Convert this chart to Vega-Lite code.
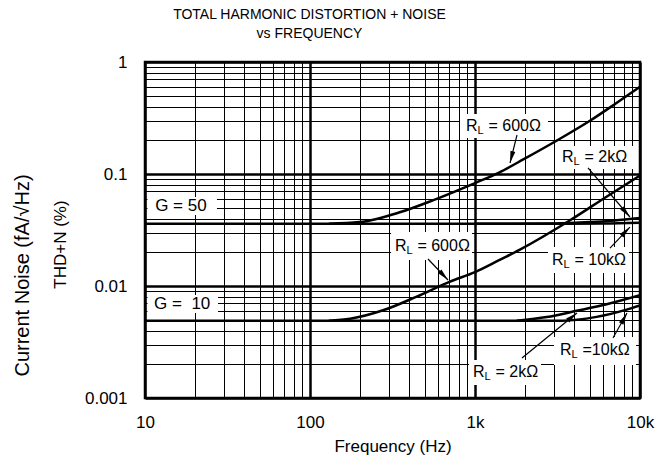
{
  "$schema": "https://vega.github.io/schema/vega-lite/v6.json",
  "width": 495,
  "height": 336,
  "autosize": {"type": "none"},
  "padding": {"left": 145, "top": 62, "right": 21, "bottom": 70},
  "config": {
    "font": "Liberation Sans",
    "view": {"stroke": "black", "strokeWidth": 2.5},
    "axis": {"labelColor": "black", "titleColor": "black", "titleFontWeight": "normal", "labelFont": "Liberation Sans", "titleFont": "Liberation Sans"}
  },
  "title": {
    "text": ["TOTAL HARMONIC DISTORTION + NOISE", "vs FREQUENCY"],
    "fontSize": 14,
    "fontWeight": "normal",
    "color": "black",
    "frame": "group",
    "anchor": "middle",
    "dx": -83,
    "offset": 12,
    "lineHeight": 19.5
  },
  "datasets": {
    "curves": [
      {"series": "G50_10k", "x": 10, "y": 0.036},
      {"series": "G50_10k", "x": 100, "y": 0.036},
      {"series": "G50_10k", "x": 1000, "y": 0.036},
      {"series": "G50_10k", "x": 3000, "y": 0.036},
      {"series": "G50_10k", "x": 6000, "y": 0.0362},
      {"series": "G50_10k", "x": 10000, "y": 0.0368},
      {"series": "G50_2k", "x": 1000, "y": 0.036},
      {"series": "G50_2k", "x": 3000, "y": 0.0362},
      {"series": "G50_2k", "x": 5000, "y": 0.0372},
      {"series": "G50_2k", "x": 7000, "y": 0.0385},
      {"series": "G50_2k", "x": 10000, "y": 0.0405},
      {"series": "G50_600", "x": 130, "y": 0.036},
      {"series": "G50_600", "x": 200, "y": 0.0372},
      {"series": "G50_600", "x": 350, "y": 0.0455},
      {"series": "G50_600", "x": 560, "y": 0.0585},
      {"series": "G50_600", "x": 1000, "y": 0.083},
      {"series": "G50_600", "x": 1400, "y": 0.103},
      {"series": "G50_600", "x": 2000, "y": 0.137},
      {"series": "G50_600", "x": 3100, "y": 0.197},
      {"series": "G50_600", "x": 5000, "y": 0.3},
      {"series": "G50_600", "x": 7200, "y": 0.43},
      {"series": "G50_600", "x": 10000, "y": 0.6},
      {"series": "G10_10k", "x": 10, "y": 0.0049},
      {"series": "G10_10k", "x": 1000, "y": 0.0049},
      {"series": "G10_10k", "x": 3400, "y": 0.0049},
      {"series": "G10_10k", "x": 5450, "y": 0.0053},
      {"series": "G10_10k", "x": 8300, "y": 0.00615},
      {"series": "G10_10k", "x": 10000, "y": 0.0067},
      {"series": "G10_2k", "x": 1790, "y": 0.0049},
      {"series": "G10_2k", "x": 2720, "y": 0.00528},
      {"series": "G10_2k", "x": 4130, "y": 0.006},
      {"series": "G10_2k", "x": 6280, "y": 0.00687},
      {"series": "G10_2k", "x": 10000, "y": 0.00826},
      {"series": "G10_600", "x": 130, "y": 0.0049},
      {"series": "G10_600", "x": 175, "y": 0.0051},
      {"series": "G10_600", "x": 280, "y": 0.0061},
      {"series": "G10_600", "x": 440, "y": 0.008},
      {"series": "G10_600", "x": 700, "y": 0.0109},
      {"series": "G10_600", "x": 1000, "y": 0.0133},
      {"series": "G10_600", "x": 1400, "y": 0.017},
      {"series": "G10_600", "x": 1860, "y": 0.021},
      {"series": "G10_600", "x": 3770, "y": 0.0386},
      {"series": "G10_600", "x": 6300, "y": 0.063},
      {"series": "G10_600", "x": 10000, "y": 0.097}
    ],
    "boxes": [
      {"x": 10.35, "x2": 27.3, "y": 0.0623, "y2": 0.043},
      {"x": 10.35, "x2": 27.7, "y": 0.00831, "y2": 0.00574},
      {"x": 811, "x2": 2770, "y": 0.3433, "y2": 0.2096},
      {"x": 3097, "x2": 9200, "y": 0.1778, "y2": 0.1109},
      {"x": 310, "x2": 959, "y": 0.0303, "y2": 0.01706},
      {"x": 2770, "x2": 8570, "y": 0.0223, "y2": 0.01306},
      {"x": 3012, "x2": 9460, "y": 0.003506, "y2": 0.001971},
      {"x": 920, "x2": 2512, "y": 0.002184, "y2": 0.001306}
    ],
    "glabels": [
      {"x": 16.5, "y": 0.0518, "text": "G = 50"},
      {"x": 16.8, "y": 0.0069, "text": "G = \u00a010"}
    ],
    "rlabels": [
      {"x": 882, "y": 0.2683, "r": "R", "sub": "L", "rest": "= 600Ω"},
      {"x": 3367, "y": 0.1419, "r": "R", "sub": "L", "rest": "= 2kΩ"},
      {"x": 327, "y": 0.0228, "r": "R", "sub": "L", "rest": "= 600Ω"},
      {"x": 2930, "y": 0.01706, "r": "R", "sub": "L", "rest": "= 10kΩ"},
      {"x": 3275, "y": 0.002684, "r": "R", "sub": "L", "rest": "=10kΩ"},
      {"x": 972, "y": 0.001706, "r": "R", "sub": "L", "rest": "= 2kΩ"}
    ],
    "arrows": [
      {"x": 1797, "y": 0.223, "x2": 1630, "y2": 0.1254},
      {"x": 4840, "y": 0.1132, "x2": 8690, "y2": 0.0413},
      {"x": 519, "y": 0.01742, "x2": 686, "y2": 0.01132},
      {"x": 6577, "y": 0.0218, "x2": 8690, "y2": 0.0336},
      {"x": 6860, "y": 0.003433, "x2": 8340, "y2": 0.005741},
      {"x": 1927, "y": 0.002276, "x2": 4150, "y2": 0.005741}
    ],
    "heads": [
      {"x": 1630, "y": 0.1254, "angle": 194},
      {"x": 8690, "y": 0.0413, "angle": 139},
      {"x": 686, "y": 0.01132, "angle": 136},
      {"x": 8690, "y": 0.0336, "angle": 44},
      {"x": 8340, "y": 0.005741, "angle": 29},
      {"x": 4150, "y": 0.005741, "angle": 51}
    ]
  },
  "encoding": {
    "x": {
      "field": "x", "type": "quantitative", "scale": {"type": "log", "domain": [10, 10000]},
      "axis": {
        "values": [10, 20, 30, 40, 50, 60, 70, 80, 90, 100, 200, 300, 400, 500, 600, 700, 800, 900, 1000, 2000, 3000, 4000, 5000, 6000, 7000, 8000, 9000, 10000],
        "format": "~s",
        "labelExpr": "abs(log(datum.value)/LN10 - round(log(datum.value)/LN10)) < 0.001 ? datum.label : ''",
        "grid": true, "gridColor": "black", "gridOpacity": 1,
        "gridWidth": {"condition": {"test": "abs(log(datum.value)/LN10 - round(log(datum.value)/LN10)) < 0.001", "value": 2.5}, "value": 1},
        "ticks": false, "tickSize": 0, "domain": false,
        "labelFontSize": 17, "labelPadding": 16, "labelFlush": false, "labelOverlap": false, "labelBound": false,
        "title": "Frequency (Hz)", "titleFontSize": 17, "titlePadding": 8
      }
    }
  },
  "resolve": {"axis": {"y": "independent"}},
  "layer": [
    {
      "data": {"name": "boxes"},
      "mark": {"type": "rect", "fill": "white", "stroke": null},
      "encoding": {
        "x2": {"field": "x2"},
        "y": {
          "field": "y", "type": "quantitative", "scale": {"type": "log", "domain": [0.001, 1]},
          "axis": {
            "orient": "left", "labels": false, "ticks": false, "domain": false, "grid": false,
            "title": "Current Noise (fA/√Hz)", "titleX": -123, "titleY": 213, "titleFontSize": 20,
            "titleAlign": "center", "titleBaseline": "middle", "titleAngle": -90
          }
        },
        "y2": {"field": "y2"}
      }
    },
    {
      "data": {"name": "curves"},
      "mark": {"type": "line", "color": "black", "strokeWidth": 2.5, "interpolate": "monotone", "clip": true},
      "encoding": {
        "y": {
          "field": "y", "type": "quantitative", "scale": {"type": "log", "domain": [0.001, 1]},
          "axis": {
            "orient": "left",
            "values": [0.001, 0.002, 0.003, 0.004, 0.005, 0.006, 0.007, 0.008, 0.009, 0.01, 0.02, 0.03, 0.04, 0.05, 0.06, 0.07, 0.08, 0.09, 0.1, 0.2, 0.3, 0.4, 0.5, 0.6, 0.7, 0.8, 0.9, 1],
            "format": "~g",
            "labelExpr": "abs(log(datum.value)/LN10 - round(log(datum.value)/LN10)) < 0.001 ? datum.label : ''",
            "grid": true, "gridColor": "black", "gridOpacity": 1,
            "gridWidth": {"condition": {"test": "abs(log(datum.value)/LN10 - round(log(datum.value)/LN10)) < 0.001", "value": 2.5}, "value": 1},
            "ticks": false, "tickSize": 0, "domain": false,
            "labelFontSize": 17, "labelPadding": 18, "labelOverlap": false, "labelBound": false, "labelFlush": false,
            "title": "THD+N (%)", "titleX": -85, "titleY": 182, "titleFontSize": 17,
            "titleAlign": "center", "titleBaseline": "middle", "titleAngle": -90
          }
        },
        "detail": {"field": "series"}
      }
    },
    {
      "data": {"name": "arrows"},
      "mark": {"type": "rule", "color": "black", "strokeWidth": 1.2},
      "encoding": {
        "x2": {"field": "x2"},
        "y": {"field": "y", "type": "quantitative", "scale": {"type": "log", "domain": [0.001, 1]}, "axis": null},
        "y2": {"field": "y2"}
      }
    },
    {
      "data": {"name": "heads"},
      "mark": {"type": "point", "shape": "M0,0L-0.5,2.4L0.5,2.4Z", "filled": true, "color": "black", "size": 100, "opacity": 1},
      "encoding": {
        "y": {"field": "y", "type": "quantitative", "scale": {"type": "log", "domain": [0.001, 1]}, "axis": null},
        "angle": {"field": "angle", "type": "quantitative", "scale": null}
      }
    },
    {
      "data": {"name": "glabels"},
      "mark": {"type": "text", "fontSize": 17, "align": "center", "baseline": "middle", "color": "black"},
      "encoding": {
        "y": {"field": "y", "type": "quantitative", "scale": {"type": "log", "domain": [0.001, 1]}, "axis": null},
        "text": {"field": "text"}
      }
    },
    {
      "data": {"name": "rlabels"},
      "mark": {"type": "text", "fontSize": 16, "align": "left", "baseline": "middle", "color": "black"},
      "encoding": {
        "y": {"field": "y", "type": "quantitative", "scale": {"type": "log", "domain": [0.001, 1]}, "axis": null},
        "text": {"field": "r"}
      }
    },
    {
      "data": {"name": "rlabels"},
      "mark": {"type": "text", "fontSize": 11, "align": "left", "baseline": "middle", "color": "black", "dx": 11.5, "dy": 5},
      "encoding": {
        "y": {"field": "y", "type": "quantitative", "scale": {"type": "log", "domain": [0.001, 1]}, "axis": null},
        "text": {"field": "sub"}
      }
    },
    {
      "data": {"name": "rlabels"},
      "mark": {"type": "text", "fontSize": 16, "align": "left", "baseline": "middle", "color": "black", "dx": 22.5},
      "encoding": {
        "y": {"field": "y", "type": "quantitative", "scale": {"type": "log", "domain": [0.001, 1]}, "axis": null},
        "text": {"field": "rest"}
      }
    }
  ]
}
